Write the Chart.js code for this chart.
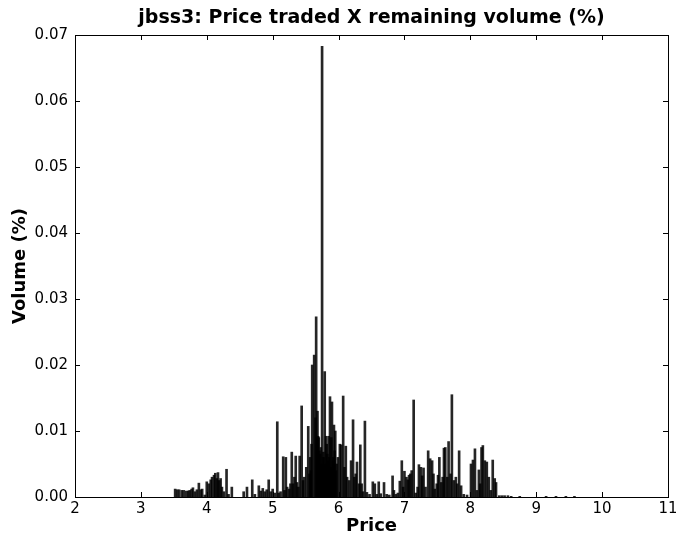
<!DOCTYPE html>
<html>
<head>
<meta charset="utf-8">
<script src="https://cdn.jsdelivr.net/npm/chart.js@4.4.0/dist/chart.umd.min.js"></script>
<style>
  html, body { margin: 0; padding: 0; background: #ffffff; }
  #wrap { width: 676px; height: 535px; }
</style>
</head>
<body>
<div id="wrap"><canvas id="chart" width="676" height="535"></canvas></div>
<script>
// ===== DATA =====
const prices = [
    3.52, 3.55, 3.58, 3.62, 3.65, 3.69, 3.72, 3.74, 3.77, 3.79, 3.82, 3.85, 3.88, 3.91, 3.93, 3.97,
    4.00, 4.03, 4.06, 4.08, 4.11, 4.13, 4.15, 4.17, 4.19, 4.21, 4.23, 4.26, 4.30, 4.33, 4.38,
    4.56, 4.61, 4.69, 4.73, 4.79, 4.82, 4.85, 4.88, 4.91, 4.94, 4.97,
    5.00, 5.03, 5.07, 5.09, 5.12, 5.16, 5.18, 5.20, 5.22, 5.25, 5.27, 5.29, 5.31, 5.33, 5.35, 5.37, 5.39,
    5.41, 5.44, 5.46, 5.48, 5.51, 5.54, 5.56, 5.57, 5.58, 5.59, 5.60, 5.63, 5.65, 5.66, 5.67, 5.68, 5.69,
    5.70, 5.71, 5.72, 5.73, 5.74, 5.75, 5.76, 5.77, 5.78, 5.79, 5.80, 5.81, 5.82, 5.83, 5.84, 5.85, 5.86,
    5.87, 5.88, 5.89, 5.90, 5.91, 5.92, 5.93, 5.94, 5.95, 5.96, 5.97, 5.99,
    6.02, 6.04, 6.07, 6.09, 6.11, 6.13, 6.16, 6.19, 6.22, 6.24, 6.26, 6.28, 6.31, 6.33, 6.35, 6.37,
    6.40, 6.43, 6.47, 6.52, 6.55, 6.58, 6.61, 6.64, 6.69, 6.73, 6.77, 6.82, 6.84, 6.87, 6.90, 6.93, 6.96, 6.98,
    7.00, 7.03, 7.05, 7.07, 7.09, 7.11, 7.14, 7.17, 7.20, 7.22, 7.25, 7.27, 7.29, 7.32, 7.36, 7.39,
    7.42, 7.44, 7.46, 7.49, 7.51, 7.53, 7.56, 7.58, 7.60, 7.62, 7.65, 7.67, 7.70, 7.72, 7.75, 7.78,
    7.80, 7.83, 7.86, 7.90, 7.95,
    8.01, 8.04, 8.07, 8.10, 8.13, 8.15, 8.17, 8.19, 8.22, 8.25, 8.28, 8.31, 8.34, 8.37, 8.39,
    8.44, 8.48, 8.52, 8.57, 8.62, 8.75, 9.15, 9.30, 9.45, 9.58
];
const volumes = [
    0.0012, 0.0011, 0.0011, 0.0010, 0.0010, 0.0009, 0.0009, 0.0010, 0.0012, 0.0014, 0.0008, 0.0011, 0.0021, 0.0011, 0.0012, 0.0003,
    0.0023, 0.0020, 0.0026, 0.0030, 0.0033, 0.0036, 0.0028, 0.0037, 0.0025, 0.0028, 0.0015, 0.0008, 0.0042, 0.0004, 0.0015,
    0.0008, 0.0015, 0.0026, 0.0004, 0.0017, 0.0009, 0.0013, 0.0008, 0.0011, 0.0026, 0.0008,
    0.0012, 0.0006, 0.0114, 0.0006, 0.0008, 0.0061, 0.0010, 0.0060, 0.0015, 0.0012, 0.0020, 0.0068, 0.0020, 0.0030, 0.0062, 0.0022, 0.0015,
    0.0062, 0.0138, 0.0025, 0.0030, 0.0045, 0.0107, 0.0035, 0.0060, 0.0040, 0.0080, 0.0200, 0.0215, 0.0120, 0.0273, 0.0090, 0.0130, 0.0092,
    0.0090, 0.0070, 0.0065, 0.0075, 0.0050, 0.0683, 0.0060, 0.0068, 0.0060, 0.0190, 0.0050, 0.0092, 0.0080, 0.0065, 0.0055, 0.0092, 0.0060,
    0.0152, 0.0045, 0.0090, 0.0144, 0.0055, 0.0060, 0.0109, 0.0070, 0.0100, 0.0040, 0.0050, 0.0060,
    0.0080, 0.0079, 0.0153, 0.0045, 0.0077, 0.0030, 0.0025, 0.0055, 0.0117, 0.0030, 0.0035, 0.0053, 0.0020, 0.0079, 0.0020, 0.0008,
    0.0115, 0.0007, 0.0004, 0.0023, 0.0020, 0.0004, 0.0023, 0.0005, 0.0022, 0.0004, 0.0003, 0.0032, 0.0010, 0.0004, 0.0006, 0.0024, 0.0055, 0.0015,
    0.0039, 0.0030, 0.0026, 0.0033, 0.0035, 0.0040, 0.0147, 0.0006, 0.0015, 0.0049, 0.0045, 0.0032, 0.0044, 0.0015, 0.0070, 0.0058,
    0.0055, 0.0035, 0.0012, 0.0020, 0.0033, 0.0060, 0.0022, 0.0030, 0.0074, 0.0075, 0.0030, 0.0084, 0.0035, 0.0155, 0.0025, 0.0030,
    0.0020, 0.0070, 0.0017, 0.0004, 0.0003,
    0.0050, 0.0056, 0.0073, 0.0010, 0.0041, 0.0020, 0.0075, 0.0078, 0.0055, 0.0053, 0.0030, 0.0010, 0.0056, 0.0028, 0.0022,
    0.0002, 0.0002, 0.0002, 0.0002, 0.0001, 0.0001, 0.0001, 0.0001, 0.0001, 0.0001
];
const xTicks = [2, 3, 4, 5, 6, 7, 8, 9, 10, 11];
const yTicks = [0.00, 0.01, 0.02, 0.03, 0.04, 0.05, 0.06, 0.07];
const TITLE = 'jbss3: Price traded X remaining volume (%)';

const FONT = "'DejaVu Sans', sans-serif";

// matplotlib style frame with inward ticks on all four sides, title over the plot area
const framePlugin = {
    id: 'frame',
    afterDraw(chart) {
        const ctx = chart.ctx;
        const a = chart.chartArea;
        const xs = chart.scales.x;
        const ys = chart.scales.y;
        ctx.save();
        ctx.strokeStyle = '#000000';
        ctx.lineWidth = 1;
        ctx.beginPath();
        xTicks.forEach(v => {
            const px = Math.round(xs.getPixelForValue(v)) + 0.5;
            ctx.moveTo(px, a.bottom);
            ctx.lineTo(px, a.bottom - 5);
            ctx.moveTo(px, a.top);
            ctx.lineTo(px, a.top + 5);
        });
        yTicks.forEach(v => {
            const py = Math.round(ys.getPixelForValue(v)) + 0.5;
            ctx.moveTo(a.left, py);
            ctx.lineTo(a.left + 5, py);
            ctx.moveTo(a.right, py);
            ctx.lineTo(a.right - 5, py);
        });
        ctx.stroke();
        ctx.strokeRect(Math.round(a.left) + 0.5, Math.round(a.top) + 0.5,
                       Math.round(a.right - a.left), Math.round(a.bottom - a.top));

        // title centred on the plot area
        ctx.fillStyle = '#000000';
        ctx.font = "bold 19px " + FONT;
        ctx.textAlign = 'center';
        ctx.textBaseline = 'middle';
        ctx.fillText(TITLE, (a.left + a.right) / 2, 18);
        ctx.restore();
    }
};

function init_chart() {
    const ctx = document.getElementById('chart').getContext('2d');
    const points = prices.map((p, i) => ({ x: p, y: volumes[i] }));

    new Chart(ctx, {
        type: 'bar',
        data: {
            datasets: [{
                data: points,
                backgroundColor: 'rgba(0, 0, 0, 0.85)',
                borderWidth: 0,
                barThickness: 2
            }]
        },
        plugins: [framePlugin],
        options: {
            responsive: false,
            animation: false,
            devicePixelRatio: 1,
            layout: { padding: { left: 0, right: 0, top: 35, bottom: 0 } },
            scales: {
                x: {
                    type: 'linear',
                    min: 2,
                    max: 11,
                    offset: false,
                    afterBuildTicks: (s) => { s.ticks = xTicks.map(v => ({ value: v })); },
                    afterFit: (s) => {
                        s.height = 38;
                        s.paddingLeft = 0;
                        s.paddingRight = 8;  // let the "11" label run off the edge like the original
                    },
                    grid: { display: false, drawTicks: false, offset: false },
                    border: { display: false },
                    ticks: {
                        color: '#000000',
                        padding: 3,
                        maxRotation: 0,
                        font: { family: FONT, size: 15 },
                        callback: (v) => String(v)
                    },
                    title: {
                        display: true,
                        text: 'Price',
                        color: '#000000',
                        padding: { top: 0, bottom: 0 },
                        font: { family: FONT, size: 18, weight: 'bold', lineHeight: 1 }
                    }
                },
                y: {
                    min: 0,
                    max: 0.07,
                    afterBuildTicks: (s) => { s.ticks = yTicks.map(v => ({ value: v })); },
                    afterFit: (s) => { s.width = 75; },
                    grid: { display: false, drawTicks: false },
                    border: { display: false },
                    ticks: {
                        color: '#000000',
                        padding: 7,
                        font: { family: FONT, size: 15 },
                        callback: (v) => Number(v).toFixed(2)
                    },
                    title: {
                        display: true,
                        text: 'Volume (%)',
                        color: '#000000',
                        padding: { top: 11, bottom: 0 },
                        font: { family: FONT, size: 18, weight: 'bold', lineHeight: 1 }
                    }
                }
            },
            plugins: {
                legend: { display: false },
                tooltip: { enabled: false },
                title: { display: false }
            }
        }
    });
}

window.addEventListener('load', () => {
    init_chart();
});
</script>
</body>
</html>
